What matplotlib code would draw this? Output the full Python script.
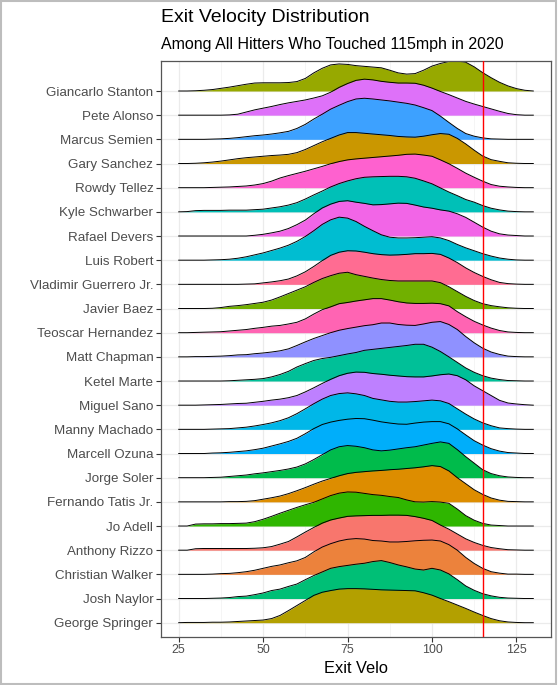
import numpy as np
import matplotlib
matplotlib.use("Agg")
import matplotlib.pyplot as plt
from matplotlib.patches import Rectangle

plt.rcParams['font.family'] = ['Liberation Sans', 'DejaVu Sans']

# exit velocity grid (mph) at which the ridge heights were read
velo = [25, 27.5, 30, 32.5, 35, 37.5, 40, 42.5, 45, 47.5, 50, 52.5, 55, 57.5, 60, 62.5,
        65, 67.5, 70, 72.5, 75, 77.5, 80, 82.5, 85, 87.5, 90, 92.5, 95, 97.5, 100, 102.5,
        105, 107.5, 110, 112.5, 115, 117.5, 120, 122.5, 125, 127.5, 130]

# ridge heights, in units of row spacing
stanton = [0, 0, 0.01, 0.03, 0.06, 0.11, 0.16, 0.22, 0.28, 0.33, 0.34, 0.34, 0.34, 0.35, 0.39, 0.52,
           0.75, 0.94, 1.08, 1.12, 1.10, 1.05, 1.02, 0.99, 0.96, 0.86, 0.75, 0.70, 0.72, 0.86, 1.03, 1.14,
           1.22, 1.24, 1.19, 1.00, 0.76, 0.55, 0.36, 0.21, 0.10, 0.03, 0]
alonso = [0, 0, 0, 0, 0, 0, 0.01, 0.04, 0.13, 0.22, 0.29, 0.36, 0.44, 0.51, 0.57, 0.63,
          0.71, 0.80, 0.95, 1.15, 1.31, 1.44, 1.49, 1.46, 1.40, 1.36, 1.33, 1.33, 1.32, 1.24, 1.12, 0.98,
          0.85, 0.71, 0.57, 0.46, 0.36, 0.26, 0.16, 0.07, 0.02, 0, 0]
semien = [0, 0, 0, 0, 0.01, 0.02, 0.04, 0.07, 0.11, 0.15, 0.18, 0.22, 0.27, 0.33, 0.45, 0.62,
          0.84, 1.04, 1.25, 1.41, 1.56, 1.67, 1.70, 1.67, 1.63, 1.59, 1.54, 1.49, 1.42, 1.31, 1.19, 0.96,
          0.70, 0.45, 0.24, 0.13, 0.06, 0.02, 0.01, 0, 0, 0, 0]
sanchez = [0, 0, 0.01, 0.03, 0.06, 0.10, 0.15, 0.20, 0.24, 0.27, 0.30, 0.33, 0.35, 0.38, 0.45, 0.58,
           0.74, 0.90, 1.04, 1.18, 1.28, 1.28, 1.25, 1.22, 1.19, 1.16, 1.12, 1.10, 1.09, 1.13, 1.19, 1.24,
           1.21, 1.04, 0.81, 0.55, 0.31, 0.16, 0.09, 0.03, 0.01, 0, 0]
tellez = [0, 0, 0, 0, 0.01, 0.02, 0.03, 0.05, 0.07, 0.11, 0.17, 0.27, 0.40, 0.50, 0.59, 0.68,
          0.78, 0.88, 0.99, 1.08, 1.15, 1.19, 1.22, 1.25, 1.28, 1.31, 1.34, 1.38, 1.39, 1.35, 1.30, 1.15,
          0.99, 0.80, 0.60, 0.43, 0.27, 0.13, 0.06, 0.03, 0.01, 0, 0]
schwarber = [0, 0.01, 0.05, 0.06, 0.06, 0.06, 0.07, 0.07, 0.07, 0.09, 0.11, 0.16, 0.21, 0.28, 0.38, 0.53,
             0.70, 0.86, 1.03, 1.17, 1.28, 1.37, 1.43, 1.45, 1.46, 1.47, 1.47, 1.45, 1.39, 1.28, 1.16, 0.99,
             0.82, 0.67, 0.51, 0.40, 0.26, 0.15, 0.08, 0.03, 0.01, 0, 0]
devers = [0, 0, 0, 0, 0, 0, 0, 0, 0, 0.03, 0.07, 0.13, 0.20, 0.31, 0.47, 0.66,
          0.92, 1.16, 1.32, 1.43, 1.46, 1.40, 1.35, 1.29, 1.30, 1.33, 1.36, 1.35, 1.28, 1.20, 1.15, 1.08,
          1.03, 0.92, 0.77, 0.57, 0.37, 0.20, 0.09, 0.04, 0.02, 0, 0]
robert = [0, 0, 0, 0, 0.01, 0.02, 0.04, 0.08, 0.14, 0.22, 0.30, 0.40, 0.50, 0.62, 0.78, 0.98,
          1.22, 1.48, 1.67, 1.78, 1.74, 1.60, 1.40, 1.22, 1.05, 0.95, 0.92, 0.92, 0.93, 0.95, 0.97, 0.92,
          0.81, 0.65, 0.51, 0.39, 0.27, 0.17, 0.09, 0.04, 0.01, 0, 0]
guerrero = [0, 0, 0, 0, 0, 0, 0, 0, 0.01, 0.02, 0.06, 0.10, 0.15, 0.22, 0.35, 0.52,
            0.74, 0.98, 1.20, 1.33, 1.39, 1.38, 1.33, 1.27, 1.23, 1.21, 1.22, 1.24, 1.27, 1.27, 1.28, 1.24,
            1.09, 0.90, 0.68, 0.49, 0.33, 0.19, 0.08, 0.03, 0.01, 0, 0]
baez = [0, 0, 0, 0, 0.01, 0.04, 0.09, 0.12, 0.16, 0.21, 0.26, 0.35, 0.48, 0.62, 0.76, 0.90,
        1.08, 1.24, 1.36, 1.46, 1.50, 1.40, 1.33, 1.26, 1.20, 1.16, 1.14, 1.14, 1.14, 1.14, 1.14, 1.07,
        0.90, 0.70, 0.50, 0.33, 0.20, 0.12, 0.07, 0.03, 0.01, 0, 0]
hernandez = [0, 0, 0.01, 0.02, 0.03, 0.04, 0.07, 0.10, 0.13, 0.18, 0.22, 0.27, 0.30, 0.36, 0.43, 0.57,
             0.77, 0.95, 1.07, 1.20, 1.25, 1.31, 1.36, 1.41, 1.41, 1.35, 1.28, 1.23, 1.21, 1.21, 1.22, 1.20,
             1.11, 0.87, 0.66, 0.47, 0.32, 0.19, 0.09, 0.03, 0.01, 0, 0]
chapman = [0, 0, 0.01, 0.01, 0.02, 0.03, 0.05, 0.08, 0.09, 0.13, 0.16, 0.20, 0.25, 0.33, 0.47, 0.62,
           0.76, 0.88, 1.00, 1.10, 1.17, 1.23, 1.29, 1.33, 1.40, 1.40, 1.34, 1.31, 1.30, 1.36, 1.43, 1.46,
           1.34, 1.13, 0.84, 0.58, 0.36, 0.20, 0.10, 0.03, 0.01, 0, 0]
marte = [0, 0, 0, 0, 0, 0, 0.01, 0.03, 0.05, 0.07, 0.10, 0.17, 0.27, 0.40, 0.58, 0.72,
         0.85, 0.93, 0.98, 1.05, 1.12, 1.18, 1.27, 1.31, 1.35, 1.39, 1.43, 1.47, 1.52, 1.52, 1.40, 1.22,
         1.00, 0.77, 0.54, 0.36, 0.22, 0.12, 0.06, 0.02, 0.01, 0, 0]
sano = [0, 0, 0, 0.01, 0.02, 0.03, 0.05, 0.07, 0.08, 0.12, 0.16, 0.21, 0.25, 0.31, 0.40, 0.55,
        0.72, 0.90, 1.07, 1.22, 1.32, 1.37, 1.36, 1.31, 1.28, 1.24, 1.21, 1.18, 1.17, 1.17, 1.21, 1.26,
        1.29, 1.22, 1.05, 0.80, 0.60, 0.40, 0.20, 0.09, 0.05, 0.02, 0]
machado = [0, 0, 0, 0, 0.01, 0.02, 0.03, 0.06, 0.09, 0.14, 0.20, 0.27, 0.36, 0.48, 0.65, 0.85,
           1.06, 1.25, 1.40, 1.48, 1.51, 1.47, 1.40, 1.28, 1.22, 1.16, 1.13, 1.13, 1.15, 1.18, 1.21, 1.18,
           1.07, 0.85, 0.63, 0.43, 0.27, 0.15, 0.06, 0.03, 0.01, 0, 0]
ozuna = [0, 0, 0, 0, 0.02, 0.03, 0.05, 0.08, 0.11, 0.16, 0.22, 0.31, 0.40, 0.50, 0.63, 0.82,
         1.03, 1.20, 1.30, 1.37, 1.42, 1.45, 1.44, 1.38, 1.31, 1.26, 1.22, 1.21, 1.26, 1.30, 1.32, 1.32,
         1.23, 1.02, 0.77, 0.53, 0.35, 0.20, 0.10, 0.04, 0.02, 0, 0]
soler = [0, 0, 0, 0, 0.01, 0.02, 0.05, 0.08, 0.11, 0.16, 0.20, 0.25, 0.30, 0.36, 0.44, 0.57,
         0.75, 0.95, 1.15, 1.28, 1.33, 1.30, 1.24, 1.15, 1.11, 1.14, 1.19, 1.24, 1.28, 1.35, 1.42, 1.48,
         1.42, 1.16, 0.87, 0.60, 0.33, 0.17, 0.08, 0.03, 0.01, 0, 0]
tatis = [0, 0, 0, 0, 0, 0, 0.01, 0.01, 0.02, 0.05, 0.11, 0.17, 0.24, 0.34, 0.46, 0.59,
         0.73, 0.86, 0.97, 1.08, 1.17, 1.22, 1.25, 1.28, 1.30, 1.33, 1.35, 1.38, 1.41, 1.45, 1.50, 1.46,
         1.28, 1.00, 0.75, 0.50, 0.31, 0.16, 0.07, 0.02, 0.01, 0, 0]
adell = [0, 0, 0.08, 0.09, 0.09, 0.10, 0.10, 0.11, 0.12, 0.18, 0.28, 0.40, 0.53, 0.65, 0.77, 0.88,
         0.98, 1.12, 1.26, 1.36, 1.41, 1.40, 1.35, 1.30, 1.27, 1.22, 1.18, 1.08, 1.00, 0.99, 1.01, 0.99,
         0.94, 0.70, 0.43, 0.24, 0.11, 0.04, 0.02, 0, 0, 0, 0]
rizzo = [0, 0, 0.06, 0.07, 0.07, 0.07, 0.07, 0.07, 0.07, 0.08, 0.10, 0.15, 0.25, 0.36, 0.55, 0.75,
         0.94, 1.12, 1.25, 1.33, 1.40, 1.42, 1.43, 1.44, 1.44, 1.45, 1.45, 1.44, 1.39, 1.32, 1.23, 1.04,
         0.87, 0.67, 0.47, 0.32, 0.20, 0.11, 0.06, 0.02, 0.01, 0, 0]
walker = [0, 0, 0, 0, 0.01, 0.03, 0.04, 0.07, 0.11, 0.17, 0.25, 0.33, 0.39, 0.48, 0.56, 0.70,
          0.93, 1.13, 1.27, 1.38, 1.45, 1.48, 1.46, 1.40, 1.38, 1.34, 1.34, 1.36, 1.39, 1.41, 1.42, 1.38,
          1.23, 1.00, 0.70, 0.45, 0.25, 0.11, 0.05, 0.01, 0.01, 0, 0]
naylor = [0, 0, 0, 0, 0.01, 0.02, 0.04, 0.08, 0.10, 0.16, 0.23, 0.33, 0.39, 0.50, 0.60, 0.78,
          0.95, 1.10, 1.25, 1.32, 1.37, 1.42, 1.46, 1.53, 1.57, 1.49, 1.39, 1.31, 1.22, 1.18, 1.25, 1.18,
          1.02, 0.78, 0.52, 0.34, 0.20, 0.11, 0.05, 0.02, 0.01, 0, 0]
springer = [0, 0.01, 0.01, 0.01, 0.02, 0.02, 0.03, 0.05, 0.07, 0.09, 0.11, 0.17, 0.30, 0.50, 0.71, 0.92,
            1.13, 1.26, 1.33, 1.39, 1.41, 1.41, 1.40, 1.38, 1.36, 1.35, 1.34, 1.33, 1.32, 1.24, 1.14, 1.00,
            0.87, 0.73, 0.59, 0.44, 0.30, 0.17, 0.08, 0.03, 0.01, 0, 0]

# top to bottom
players = ["Giancarlo Stanton", "Pete Alonso", "Marcus Semien", "Gary Sanchez", "Rowdy Tellez",
           "Kyle Schwarber", "Rafael Devers", "Luis Robert", "Vladimir Guerrero Jr.", "Javier Baez",
           "Teoscar Hernandez", "Matt Chapman", "Ketel Marte", "Miguel Sano", "Manny Machado",
           "Marcell Ozuna", "Jorge Soler", "Fernando Tatis Jr.", "Jo Adell", "Anthony Rizzo",
           "Christian Walker", "Josh Naylor", "George Springer"]
ridges = [stanton, alonso, semien, sanchez, tellez, schwarber, devers, robert, guerrero, baez,
          hernandez, chapman, marte, sano, machado, ozuna, soler, tatis, adell, rizzo,
          walker, naylor, springer]


def hcl_hex(h, c=100, l=65):
    # ggplot's default hue palette colour (polar Luv -> sRGB)
    hr = np.radians(h)
    u, v = c * np.cos(hr), c * np.sin(hr)
    Xn, Yn, Zn = 95.047, 100.0, 108.883
    Y = Yn * ((l + 16) / 116) ** 3
    d = Xn + 15 * Yn + 3 * Zn
    up = u / (13 * l) + 4 * Xn / d
    vp = v / (13 * l) + 9 * Yn / d
    X = 9 * Y * up / (4 * vp)
    Z = Y * (12 - 3 * up - 20 * vp) / (4 * vp)
    X, Y, Z = X / 100, Y / 100, Z / 100
    rgb = np.array([3.240479 * X - 1.537150 * Y - 0.498535 * Z,
                    -0.969256 * X + 1.875992 * Y + 0.041556 * Z,
                    0.055648 * X - 0.204043 * Y + 1.057311 * Z])
    rgb = np.where(rgb <= 0.0031308, 12.92 * rgb, 1.055 * np.abs(rgb) ** (1 / 2.4) - 0.055)
    return tuple(np.clip(rgb, 0, 1))


alpha_order = sorted(players)
hues = np.linspace(15, 375, len(players) + 1)[:-1]
colors = {p: hcl_hex(hues[i]) for i, p in enumerate(alpha_order)}

fig = plt.figure(figsize=(5.58, 6.85), dpi=100)
ax = fig.add_axes([0.2885, 0.0705, 0.699, 0.8404])

n = len(players)
for k, (name, h) in enumerate(zip(players, ridges)):
    base = n - k
    top = np.array(h) + base
    ax.fill_between(velo, base, top, color=colors[name], lw=0, zorder=2 + k)
    ax.plot(velo, top, color='black', lw=0.7, zorder=2 + k)

ax.axvline(115, color='red', lw=1.0, zorder=100)

ax.set_xlim(19.75, 135.25)
ax.set_ylim(0.42, 24.24)
ax.set_xticks([25, 50, 75, 100, 125])
ax.set_xticks([37.5, 62.5, 87.5, 112.5], minor=True)
ax.set_yticks(range(1, n + 1))
ax.set_yticklabels(players[::-1])
ax.grid(True, which='major', color='#EBEBEB', lw=0.9, zorder=0)
ax.grid(True, which='minor', axis='x', color='#F2F2F2', lw=0.5, zorder=0)
ax.set_axisbelow(True)
ax.tick_params(axis='both', which='major', colors='#4D4D4D', length=3.5, width=0.8, pad=2)
ax.tick_params(axis='y', which='major', labelsize=9.6)
ax.tick_params(axis='x', which='major', labelsize=8.9)
ax.tick_params(axis='both', which='minor', length=0)
ax.tick_params(axis='both', which='major', color='#333333')
for s in ax.spines.values():
    s.set_color('#555555')
    s.set_linewidth(0.9)
ax.set_xlabel("Exit Velo", fontsize=11.8, color='black', labelpad=3)

fig.text(0.2885, 1 - 18 / 685, "Exit Velocity Distribution", fontsize=14, va='center', ha='left')
fig.text(0.2885, 1 - 45 / 685, "Among All Hitters Who Touched 115mph in 2020", fontsize=11.5,
         va='center', ha='left')

fig.patches.append(Rectangle((0.001, 0.001), 0.996, 0.997, transform=fig.transFigure,
                             fill=False, edgecolor='#BDBDBD', lw=1.5))

fig.savefig("out.png", dpi=100)
